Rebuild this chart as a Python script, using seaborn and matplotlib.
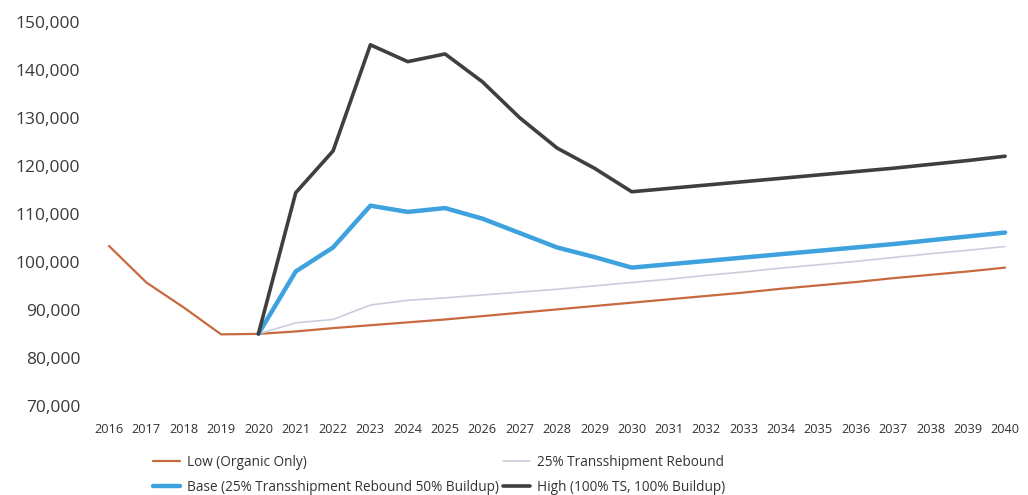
import numpy as np
import pandas as pd
import matplotlib
matplotlib.use("Agg")
import matplotlib.pyplot as plt
import seaborn as sns
from matplotlib.ticker import FuncFormatter

years_low = list(range(2016, 2041))
low = [103300, 95700, 90500, 84900, 85000, 85500, 86200, 86800, 87400, 88000,
       88700, 89400, 90100, 90800, 91500, 92200, 92900, 93600, 94400, 95100,
       95800, 96600, 97300, 98000, 98800]

years_proj = list(range(2020, 2041))
ts_rebound = [85000, 87300, 88000, 91000, 92000, 92500, 93100, 93700, 94300, 95000,
              95700, 96400, 97200, 97900, 98700, 99400, 100100, 100900, 101700, 102400, 103200]
base = [85000, 98000, 103000, 111700, 110400, 111200, 109000, 106000, 103000, 101000,
        98800, 99500, 100200, 100900, 101600, 102300, 103000, 103700, 104500, 105300, 106100]
high = [85000, 114400, 123100, 145200, 141700, 143300, 137500, 130000, 123700, 119500,
        114600, 115300, 116000, 116700, 117400, 118100, 118800, 119500, 120300, 121100, 122000]

labels = ["Low (Organic Only)", "25% Transshipment Rebound",
          "Base (25% Transshipment Rebound 50% Buildup)", "High (100% TS, 100% Buildup)"]
colors = ["#C8693F", "#C9CFDC", "#3DA2DE", "#3F3F3F"]
widths = [1.6, 1.2, 3.2, 2.6]

sns.set_theme(style="white")
plt.rcParams['font.family'] = ['Open Sans', 'DejaVu Sans']

fig = plt.figure(figsize=(10.28, 4.95), dpi=100)
ax = fig.add_axes([0.097, 0.18, 0.888, 0.776])

series = [(years_low, low), (years_proj, ts_rebound), (years_proj, base), (years_proj, high)]
for (xs, ys), lab, c, w in zip(series, labels, colors, widths):
    df = pd.DataFrame({"year": xs, "value": ys})
    sns.lineplot(data=df, x="year", y="value", ax=ax, color=c, linewidth=w, label=lab)

ax.set_xlim(2015.75, 2040.2)
ax.set_ylim(70000, 150000)
ax.set_yticks(range(70000, 150001, 10000))
ax.yaxis.set_major_formatter(FuncFormatter(lambda v, p: f"{int(v):,}"))
ax.set_xticks(years_low)
ax.set_xticklabels([str(y) for y in years_low], fontsize=9.2, color="#333333")
ax.tick_params(axis='y', labelsize=12.5, colors="#3a3a3a", pad=8)
ax.tick_params(axis='x', pad=6)
ax.set_xlabel("")
ax.set_ylabel("")
for s in ax.spines.values():
    s.set_visible(False)
ax.grid(False)

h, l = ax.get_legend_handles_labels()
order = [0, 2, 1, 3]
ax.legend([h[i] for i in order], [l[i] for i in order], ncol=2, frameon=False,
          loc="upper left", bbox_to_anchor=(0.045, -0.095),
          handlelength=2.0, handletextpad=0.5, columnspacing=0.3, labelspacing=0.75,
          prop={'size': 9.8}, labelcolor="#333333")

fig.savefig("out.png", dpi=100, facecolor="white")
